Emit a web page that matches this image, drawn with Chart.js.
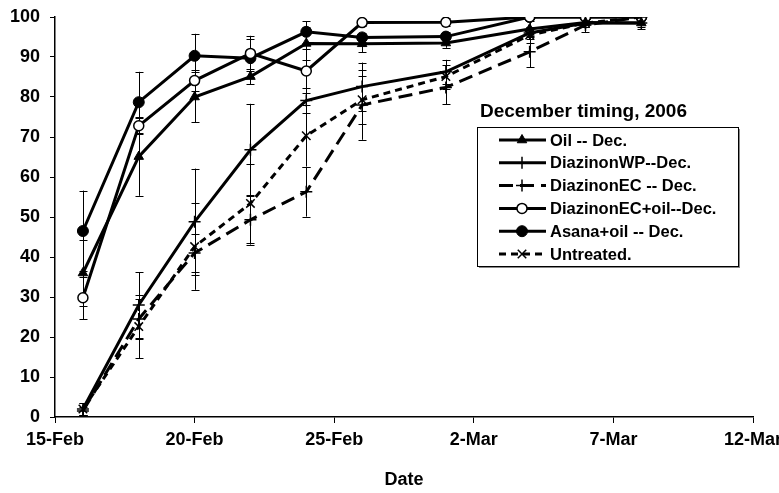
<!DOCTYPE html>
<html><head><meta charset="utf-8">
<script src="https://cdn.jsdelivr.net/npm/chart.js@4.4.1/dist/chart.umd.min.js"></script>
<style>html,body{margin:0;padding:0;background:#fff}#wrap{width:779px;height:493px;position:relative}</style>
</head><body><div id="wrap"><canvas id="c" width="779" height="493"></canvas></div>
<script>
// ---- data ----
const dates = ["2006-02-16","2006-02-18","2006-02-20","2006-02-22","2006-02-24","2006-02-26","2006-03-01","2006-03-04","2006-03-06","2006-03-08"];
const tickDates = ["2006-02-15","2006-02-20","2006-02-25","2006-03-02","2006-03-07","2006-03-12"];
const tickLabels = ["15-Feb","20-Feb","25-Feb","2-Mar","7-Mar","12-Mar"];
const seriesNames = ["Oil -- Dec.","DiazinonWP--Dec.","DiazinonEC -- Dec.","DiazinonEC+oil--Dec.","Asana+oil -- Dec.","Untreated."];
const legendTitle = "December timing, 2006";
const xTitle = "Date";

const oil        = [36, 65.1, 80, 85.1, 93.4, 93.3, 93.5, 97, 98.6, 98.5];
const oilErr     = [8.3, 9.8, 6.3, 1.9, 4.2, 2.1, 1.2, 2, 1, 1.5];
const diazWP     = [2, 28, 48.8, 66.8, 79.1, 82.6, 86.3, 96, 98.5, 98.5];
const diazWPErr  = [1.5, 8.2, 13.3, 11.5, 3.2, 6, 3, 1.5, 1, 1];
const diazEC     = [1.5, 24.5, 41, 49.3, 56.3, 78, 82.4, 91.3, 98, 100];
const diazECErr  = [1, 5, 4.8, 6.2, 6.2, 8.7, 4.2, 3.9, 1.8, 0];
const diazECoil  = [29.8, 72.8, 84.1, 90.9, 86.5, 98.6, 98.7, 100, 100, 100];
const diazECoilErr=[5.3, 2, 2.7, 4.4, 5.5, 0.8, 1, 0, 0, 0];
const asanaOil   = [46.5, 78.7, 90.3, 89.7, 96.3, 94.9, 95.1, 100, 100, 100];
const asanaOilErr= [10.1, 7.6, 5.5, 4.7, 2.7, 1.2, 1.2, 0, 0, 0];
const untreated  = [2, 22.6, 42.6, 53.4, 70.3, 79.3, 85.1, 95.5, 98.5, 100];
const untreatedErr=[1.5, 7.9, 10.8, 9.8, 7.7, 6, 3, 2, 1, 0];

// ---- helpers ----
const dayNum = s => { const p = s.split('-').map(Number); return Date.UTC(p[0], p[1]-1, p[2]) / 86400000; };
const xs = dates.map(dayNum);
const tickVals = tickDates.map(dayNum);
const pts = arr => arr.map((v,i) => ({x: xs[i], y: v}));
const FONT = "'Liberation Sans', Arial, Helvetica, sans-serif";

const styles = [
  {pointStyle:'triangle', pointRadius:5.5, pointBackgroundColor:'#000', pointBorderWidth:1, borderDash:[]},
  {pointStyle:'cross', pointRadius:6, pointBackgroundColor:'#000', pointBorderWidth:1.5, borderDash:[]},
  {pointStyle:'cross', pointRadius:6, pointBackgroundColor:'#000', pointBorderWidth:1.5, borderDash:[14,7]},
  {pointStyle:'circle', pointRadius:5, pointBackgroundColor:'#fff', pointBorderWidth:1.5, borderDash:[]},
  {pointStyle:'circle', pointRadius:5.5, pointBackgroundColor:'#000', pointBorderWidth:1, borderDash:[]},
  {pointStyle:'crossRot', pointRadius:6, pointBackgroundColor:'#000', pointBorderWidth:1.5, borderDash:[7,5]}
];
const values = [oil, diazWP, diazEC, diazECoil, asanaOil, untreated];
const errors = [oilErr, diazWPErr, diazECErr, diazECoilErr, asanaOilErr, untreatedErr];

const datasets = values.map((v,i) => Object.assign({
  label: seriesNames[i],
  data: pts(v),
  errors: errors[i],
  borderColor:'#000',
  pointBorderColor:'#000',
  borderWidth:3,
  tension:0,
  fill:false
}, styles[i]));

const errorBarPlugin = {
  id:'errorBars',
  beforeDatasetsDraw(chart){
    const ctx = chart.ctx, xS = chart.scales.x, yS = chart.scales.y;
    ctx.save();
    ctx.strokeStyle = '#000'; ctx.lineWidth = 1; ctx.setLineDash([]);
    chart.data.datasets.forEach(ds => {
      ds.data.forEach((p,i) => {
        const e = ds.errors[i]; if (!e) return;
        const x = Math.round(xS.getPixelForValue(p.x)) + 0.5;
        const y1 = yS.getPixelForValue(p.y + e), y2 = yS.getPixelForValue(p.y - e);
        ctx.beginPath();
        ctx.moveTo(x, y1); ctx.lineTo(x, y2);
        ctx.moveTo(x-4, Math.round(y1)+0.5); ctx.lineTo(x+4, Math.round(y1)+0.5);
        ctx.moveTo(x-4, Math.round(y2)+0.5); ctx.lineTo(x+4, Math.round(y2)+0.5);
        ctx.stroke();
      });
    });
    ctx.restore();
  }
};

const legendPlugin = {
  id:'boxLegend',
  afterDraw(chart){
    const ctx = chart.ctx;
    const bx = 477, by = 127, bw = 261, bh = 139;
    ctx.save();
    ctx.fillStyle = '#000';
    ctx.font = "bold 19px " + FONT;
    ctx.textBaseline = 'alphabetic'; ctx.textAlign = 'left';
    ctx.fillText(legendTitle, 480, 117);
    ctx.fillStyle = '#fff'; ctx.fillRect(bx, by, bw, bh);
    ctx.strokeStyle = '#888'; ctx.lineWidth = 2;
    ctx.beginPath(); ctx.moveTo(bx+2, by+bh+1); ctx.lineTo(bx+bw+1, by+bh+1); ctx.lineTo(bx+bw+1, by+2); ctx.stroke();
    ctx.strokeStyle = '#000'; ctx.lineWidth = 1;
    ctx.strokeRect(bx+0.5, by+0.5, bw, bh);
    ctx.font = "bold 16.5px " + FONT; ctx.textBaseline = 'middle';
    chart.data.datasets.forEach((ds,i) => {
      const y = 140 + i*22.8;
      ctx.strokeStyle = '#000'; ctx.lineWidth = 3; ctx.setLineDash(ds.borderDash || []);
      ctx.beginPath(); ctx.moveTo(499, y); ctx.lineTo(546, y); ctx.stroke();
      ctx.setLineDash([]);
      ctx.fillStyle = ds.pointBackgroundColor; ctx.strokeStyle = '#000'; ctx.lineWidth = ds.pointBorderWidth;
      Chart.helpers.drawPoint(ctx, {pointStyle: ds.pointStyle, radius: ds.pointRadius, rotation:0, borderWidth: ds.pointBorderWidth}, 522, y);
      ctx.fillStyle = '#000';
      ctx.fillText(ds.label, 550, y+1);
    });
    ctx.restore();
  }
};

new Chart(document.getElementById('c'), {
  type:'line',
  data:{datasets},
  options:{
    responsive:false, animation:false, devicePixelRatio:1,
    layout:{padding:{top:17, right:26, left:0, bottom:0}},
    plugins:{legend:{display:false}, tooltip:{enabled:false}},
    scales:{
      x:{
        type:'linear', min:tickVals[0], max:tickVals[tickVals.length-1],
        afterBuildTicks(s){ s.ticks = tickVals.map(v => ({value:v})); },
        afterFit(s){ s.height = 76; s.paddingLeft = 0; s.paddingRight = 0; },
        ticks:{color:'#000', font:{family:FONT, size:18, weight:'bold'}, padding:6, maxRotation:0, autoSkip:false,
          callback:(v) => { const k = tickVals.indexOf(v); return k >= 0 ? tickLabels[k] : ''; }},
        grid:{display:true, drawOnChartArea:false, drawTicks:true, tickLength:6, color:'#000'},
        border:{display:true, color:'#000', width:1.5},
        title:{display:true, text:xTitle, color:'#000', font:{family:FONT, size:18, weight:'bold'}, padding:{top:0, bottom:2}}
      },
      y:{
        min:0, max:100,
        afterFit(s){ s.width = 55; s.paddingTop = 0; s.paddingBottom = 0; },
        ticks:{stepSize:10, color:'#000', font:{family:FONT, size:18, weight:'bold'}, padding:10},
        grid:{display:true, drawOnChartArea:false, drawTicks:true, tickLength:5, color:'#000'},
        border:{display:true, color:'#000', width:1.5}
      }
    }
  },
  plugins:[errorBarPlugin, legendPlugin]
});
</script>
</body></html>
